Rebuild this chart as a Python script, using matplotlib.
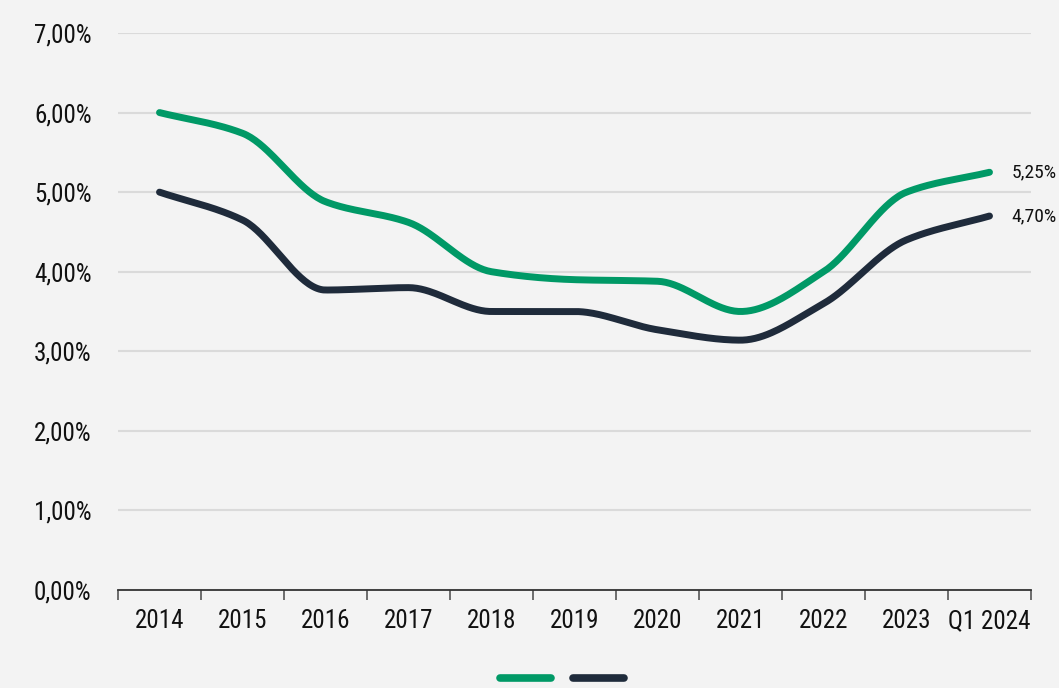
import numpy as np
import matplotlib
matplotlib.use("Agg")
import matplotlib.pyplot as plt
from matplotlib.lines import Line2D
from matplotlib import font_manager

categories = ["2014", "2015", "2016", "2017", "2018", "2019", "2020", "2021", "2022", "2023", "Q1 2024"]
green_vals = [6.00, 5.74, 4.88, 4.62, 4.00, 3.90, 3.88, 3.50, 4.00, 5.00, 5.25]
navy_vals = [5.00, 4.65, 3.77, 3.80, 3.50, 3.50, 3.27, 3.14, 3.60, 4.40, 4.70]
y_ticks = [0, 1, 2, 3, 4, 5, 6, 7]
y_labels = ["0,00%", "1,00%", "2,00%", "3,00%", "4,00%", "5,00%", "6,00%", "7,00%"]
end_labels = ["5,25%", "4,70%"]

GREEN = "#009966"
NAVY = "#1f2b3b"
BG = "#f3f3f3"

avail = {f.name for f in font_manager.fontManager.ttflist}
fam, stretch = "DejaVu Sans", "condensed"
for cand in ("Roboto Condensed", "Open Sans Condensed", "Liberation Sans Narrow"):
    if cand in avail:
        fam, stretch = cand, "normal"
        break
plt.rcParams["font.family"] = [fam, "DejaVu Sans"]


def monotone(x, y, n=40):
    x = np.asarray(x, float); y = np.asarray(y, float)
    h = np.diff(x); d = np.diff(y) / h
    m = np.zeros_like(y)
    m[0], m[-1] = d[0], d[-1]
    for i in range(1, len(y) - 1):
        if d[i - 1] * d[i] <= 0:
            m[i] = 0
        else:
            m[i] = 3 * (h[i - 1] + h[i]) / ((2 * h[i] + h[i - 1]) / d[i - 1] + (h[i] + 2 * h[i - 1]) / d[i])
    xs, ys = [], []
    for i in range(len(x) - 1):
        t = np.linspace(0, 1, n, endpoint=(i == len(x) - 2))
        h00 = 2 * t**3 - 3 * t**2 + 1; h10 = t**3 - 2 * t**2 + t
        h01 = -2 * t**3 + 3 * t**2; h11 = t**3 - t**2
        xs.append(x[i] + t * h[i])
        ys.append(h00 * y[i] + h10 * h[i] * m[i] + h01 * y[i + 1] + h11 * h[i] * m[i + 1])
    return np.concatenate(xs), np.concatenate(ys)


fig = plt.figure(figsize=(10.59, 6.88), dpi=100, facecolor=BG)
ax = fig.add_axes([118 / 1059, (688 - 590) / 688, (1031 - 118) / 1059, (590 - 33) / 688])
ax.set_facecolor(BG)

x = np.arange(len(categories))
for vals, col in ((green_vals, GREEN), (navy_vals, NAVY)):
    sx, sy = monotone(x, vals)
    ax.plot(sx, sy, color=col, lw=5, solid_capstyle="round", zorder=3, clip_on=False)

ax.set_xlim(-0.5, len(categories) - 0.5)
ax.set_ylim(0, 7)

ax.set_yticks(y_ticks)
ax.set_yticklabels(y_labels)
ax.tick_params(axis="y", length=0, pad=19, labelsize=18, labelcolor="#111111")
for t in ax.get_yticklabels():
    t.set_fontstretch(stretch)
ax.yaxis.grid(True, color="#dadada", lw=1.5)
ax.set_axisbelow(True)

ax.set_xticks(np.arange(-0.5, len(categories), 1.0))
ax.set_xticklabels([])
ax.tick_params(axis="x", which="major", length=7, width=1.2, color="#555555", direction="out")
ax.set_xticks(x, minor=True)
ax.set_xticklabels(categories, minor=True)
ax.tick_params(axis="x", which="minor", length=0, pad=14, labelsize=18, labelcolor="#111111")
for t in ax.get_xticklabels(minor=True):
    t.set_fontstretch(stretch)

for s in ("top", "right", "left"):
    ax.spines[s].set_visible(False)
ax.spines["bottom"].set_color("#333333")
ax.spines["bottom"].set_linewidth(1.3)

ax.annotate(end_labels[0], xy=(x[-1], green_vals[-1]), xytext=(16, 0), textcoords="offset points",
            va="center", ha="left", fontsize=14, color="#111111", fontstretch=stretch, annotation_clip=False)
ax.annotate(end_labels[1], xy=(x[-1], navy_vals[-1]), xytext=(16, 0), textcoords="offset points",
            va="center", ha="left", fontsize=14, color="#111111", fontstretch=stretch, annotation_clip=False)

# legend swatches (no text)
yl = 1 - 678 / 688
fig.add_artist(Line2D([500 / 1059, 551 / 1059], [yl, yl], color=GREEN, lw=5.5, solid_capstyle="round"))
fig.add_artist(Line2D([573 / 1059, 624 / 1059], [yl, yl], color=NAVY, lw=5.5, solid_capstyle="round"))

fig.savefig("out.png", dpi=100, facecolor=BG)
